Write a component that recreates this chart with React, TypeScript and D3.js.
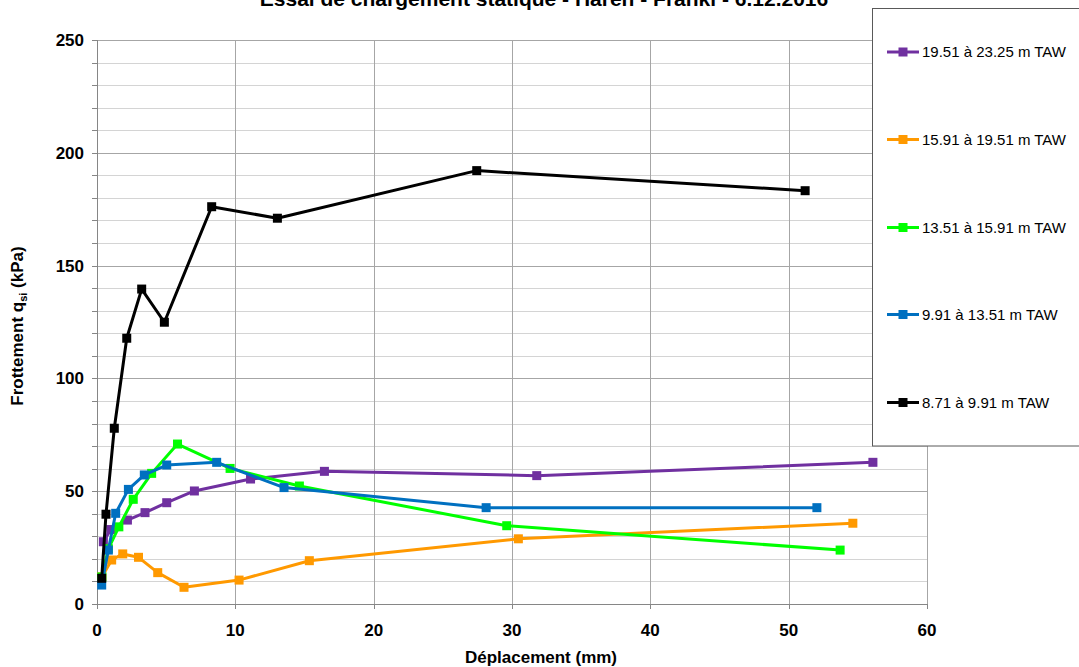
import React from "react";
import * as d3 from "d3";

const W = 1079;
const H = 667;

const seriesNames = [
  "19.51 à 23.25 m TAW",
  "15.91 à 19.51 m TAW",
  "13.51 à 15.91 m TAW",
  "9.91 à 13.51 m TAW",
  "8.71 à 9.91 m TAW",
];
const seriesColors = ["#7030A0", "#FF9900", "#00FF00", "#0070C0", "#000000"];

const purpleX = [0.46, 1.0, 2.2, 3.47, 5.04, 7.04, 11.1, 16.44, 31.79, 56.09];
const purpleY = [27.6, 33.0, 37.2, 40.5, 44.9, 50.1, 55.4, 58.8, 56.9, 62.8];

const orangeX = [0.35, 1.06, 1.86, 3.0, 4.39, 6.29, 10.27, 15.35, 30.46, 54.64];
const orangeY = [12.0, 19.5, 22.2, 20.7, 13.9, 7.4, 10.6, 19.2, 28.9, 35.8];

const greenX = [0.35, 0.82, 1.58, 2.62, 3.95, 5.82, 9.62, 14.63, 29.62, 53.72];
const greenY = [12.0, 24.5, 34.2, 46.4, 57.9, 70.9, 60.1, 52.3, 34.7, 23.9];

const blueX = [0.34, 0.82, 1.35, 2.27, 3.42, 5.04, 8.65, 13.52, 28.13, 52.04];
const blueY = [8.4, 23.9, 40.2, 50.8, 57.2, 61.6, 62.8, 51.6, 42.7, 42.7];

const blackX = [0.34, 0.65, 1.25, 2.15, 3.23, 4.87, 8.29, 13.04, 27.45, 51.19];
const blackY = [11.4, 39.8, 77.9, 117.8, 139.6, 124.9, 176.1, 171.0, 192.1, 183.2];

const seriesXs = [purpleX, orangeX, greenX, blueX, blackX];
const seriesYs = [purpleY, orangeY, greenY, blueY, blackY];

const xTicks = [0, 10, 20, 30, 40, 50, 60];
const yTicks = [0, 50, 100, 150, 200, 250];
const yGrid = d3.range(10, 251, 10);

const title = "Essai de chargement statique - Haren - Franki - 6.12.2016";
const xLabel = "Déplacement (mm)";

export default function App() {
  const x = d3.scaleLinear().domain([0, 60]).range([97, 927]);
  const y = d3.scaleLinear().domain([0, 250]).range([604, 40]);
  const line = d3
    .line<[number, number]>()
    .x((d) => x(d[0]))
    .y((d) => y(d[1]));

  const font = "Arial, 'Liberation Sans', sans-serif";
  const legendYs = [52, 139.5, 227.5, 314.5, 402.5];

  return (
    <svg
      width={W}
      height={H}
      style={{ position: "absolute", left: 0, top: 0, background: "#fff" }}
      fontFamily={font}
    >
      <rect x={0} y={0} width={W} height={H} fill="#fff" />
      {/* title */}
      <text x={544} y={6} textAnchor="middle" fontWeight="bold" fontSize={21} fill="#000">
        {title}
      </text>
      {/* horizontal grid */}
      {yGrid.map((v) => (
        <line
          key={"hg" + v}
          x1={x(0)}
          x2={x(60)}
          y1={Math.round(y(v)) + 0.5}
          y2={Math.round(y(v)) + 0.5}
          stroke={v % 50 === 0 ? "#a6a6a6" : "#d4d4d4"}
          strokeWidth={1}
        />
      ))}
      {/* vertical grid */}
      {xTicks.slice(1).map((v) => (
        <line
          key={"vg" + v}
          x1={Math.round(x(v)) + 0.5}
          x2={Math.round(x(v)) + 0.5}
          y1={y(250)}
          y2={y(0)}
          stroke="#a6a6a6"
          strokeWidth={1}
        />
      ))}
      {/* axes */}
      <line x1={x(0) + 0.5} x2={x(0) + 0.5} y1={y(250)} y2={y(0)} stroke="#868686" />
      <line x1={x(0)} x2={x(60)} y1={Math.round(y(0)) + 0.5} y2={Math.round(y(0)) + 0.5} stroke="#868686" />
      {d3.range(0, 251, 10).map((v) => (
        <line
          key={"yt" + v}
          x1={x(0) - 5}
          x2={x(0)}
          y1={Math.round(y(v)) + 0.5}
          y2={Math.round(y(v)) + 0.5}
          stroke="#868686"
        />
      ))}
      {xTicks.map((v) => (
        <line
          key={"xt" + v}
          x1={Math.round(x(v)) + 0.5}
          x2={Math.round(x(v)) + 0.5}
          y1={y(0)}
          y2={y(0) + 5}
          stroke="#868686"
        />
      ))}
      {/* tick labels */}
      {yTicks.map((v) => (
        <text
          key={"yl" + v}
          x={84}
          y={y(v) + 6}
          textAnchor="end"
          fontWeight="bold"
          fontSize={17}
          fill="#000"
        >
          {v}
        </text>
      ))}
      {xTicks.map((v) => (
        <text
          key={"xl" + v}
          x={x(v)}
          y={636}
          textAnchor="middle"
          fontWeight="bold"
          fontSize={17}
          fill="#000"
        >
          {v}
        </text>
      ))}
      <text x={541} y={663} textAnchor="middle" fontWeight="bold" fontSize={17} fill="#000">
        {xLabel}
      </text>
      <text
        transform="translate(23,326) rotate(-90)"
        textAnchor="middle"
        fontWeight="bold"
        fontSize={17}
        fill="#000"
      >
        Frottement q
        <tspan fontSize={11} dy={4}>si</tspan>
        <tspan dy={-4}> (kPa)</tspan>
      </text>
      {/* series */}
      {seriesNames.map((name, i) => {
        const pts: [number, number][] = seriesXs[i].map((xv, j) => [xv, seriesYs[i][j]]);
        return (
          <g key={name}>
            <path
              d={line(pts) || ""}
              fill="none"
              stroke={seriesColors[i]}
              strokeWidth={3}
              strokeLinejoin="round"
            />
            {pts.map((p, j) => (
              <rect
                key={j}
                x={x(p[0]) - 4.5}
                y={y(p[1]) - 4.5}
                width={9}
                height={9}
                fill={seriesColors[i]}
              />
            ))}
          </g>
        );
      })}
      {/* legend */}
      <rect x={872.5} y={8.5} width={230} height={437.5} fill="#fff" stroke="#595959" strokeWidth={1} />
      {seriesNames.map((name, i) => (
        <g key={"lg" + i}>
          <line x1={887} x2={919} y1={legendYs[i]} y2={legendYs[i]} stroke={seriesColors[i]} strokeWidth={3} />
          <rect x={898.5} y={legendYs[i] - 4.5} width={9} height={9} fill={seriesColors[i]} />
          <text x={922} y={legendYs[i] + 5} fontSize={15} fill="#000">
            {name}
          </text>
        </g>
      ))}
    </svg>
  );
}
